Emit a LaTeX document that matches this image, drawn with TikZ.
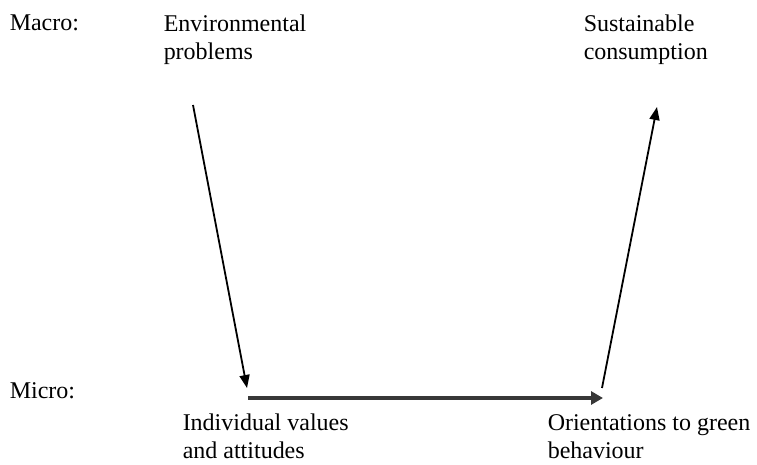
\documentclass[tikz,border=0pt]{standalone}
\usepackage{fontspec}
\setmainfont{Liberation Serif}
\usetikzlibrary{arrows.meta}
\tikzset{every picture/.style={line width=0.75pt}}
\tikzset{
  levellabel/.style={anchor=base west,inner sep=0pt,font=\fontsize{12}{14}\selectfont},
  boxtext/.style={anchor=north west,inner sep=0pt,font=\fontsize{12}{14}\selectfont,align=left},
  slantarrow/.style={line width=0.9pt,-{Triangle[length=6.5pt,width=5pt]}},
  flatarrow/.style={line width=1.8pt,draw=black!78,-{Triangle[length=6pt,width=6.5pt]}}
}

\begin{document}
\begin{tikzpicture}[x=0.5pt,y=0.5pt,yscale=-1,xscale=1]
\useasboundingbox (0,0) rectangle (757,465);

% Text Node
\node [levellabel] (macro) at (9,31) {Macro:};
% Text Node
\node [levellabel] (micro) at (9,399) {Micro:};
% Text Node
\node [boxtext] (envprob) at (163,14.5) {Environmental\\problems};
% Text Node
\node [boxtext] (sustcons) at (583,14.5) {Sustainable\\consumption};
% Text Node
\node [boxtext] (indval) at (182,413.5) {Individual values\\and attitudes};
% Text Node
\node [boxtext] (greenbeh) at (547,413.5) {Orientations to green\\behaviour};

%Line ends
\coordinate (envout) at (193,105);
\coordinate (indin) at (247,388);
\coordinate (indout) at (248,398);
\coordinate (greenin) at (603,398);
\coordinate (greenout) at (602,388);
\coordinate (sustin) at (657,107);

%Straight Lines
\draw [slantarrow] (envout) -- (indin);
%Straight Lines
\draw [flatarrow] (indout) -- (greenin);
%Straight Lines
\draw [slantarrow] (greenout) -- (sustin);
\end{tikzpicture}
\end{document}
